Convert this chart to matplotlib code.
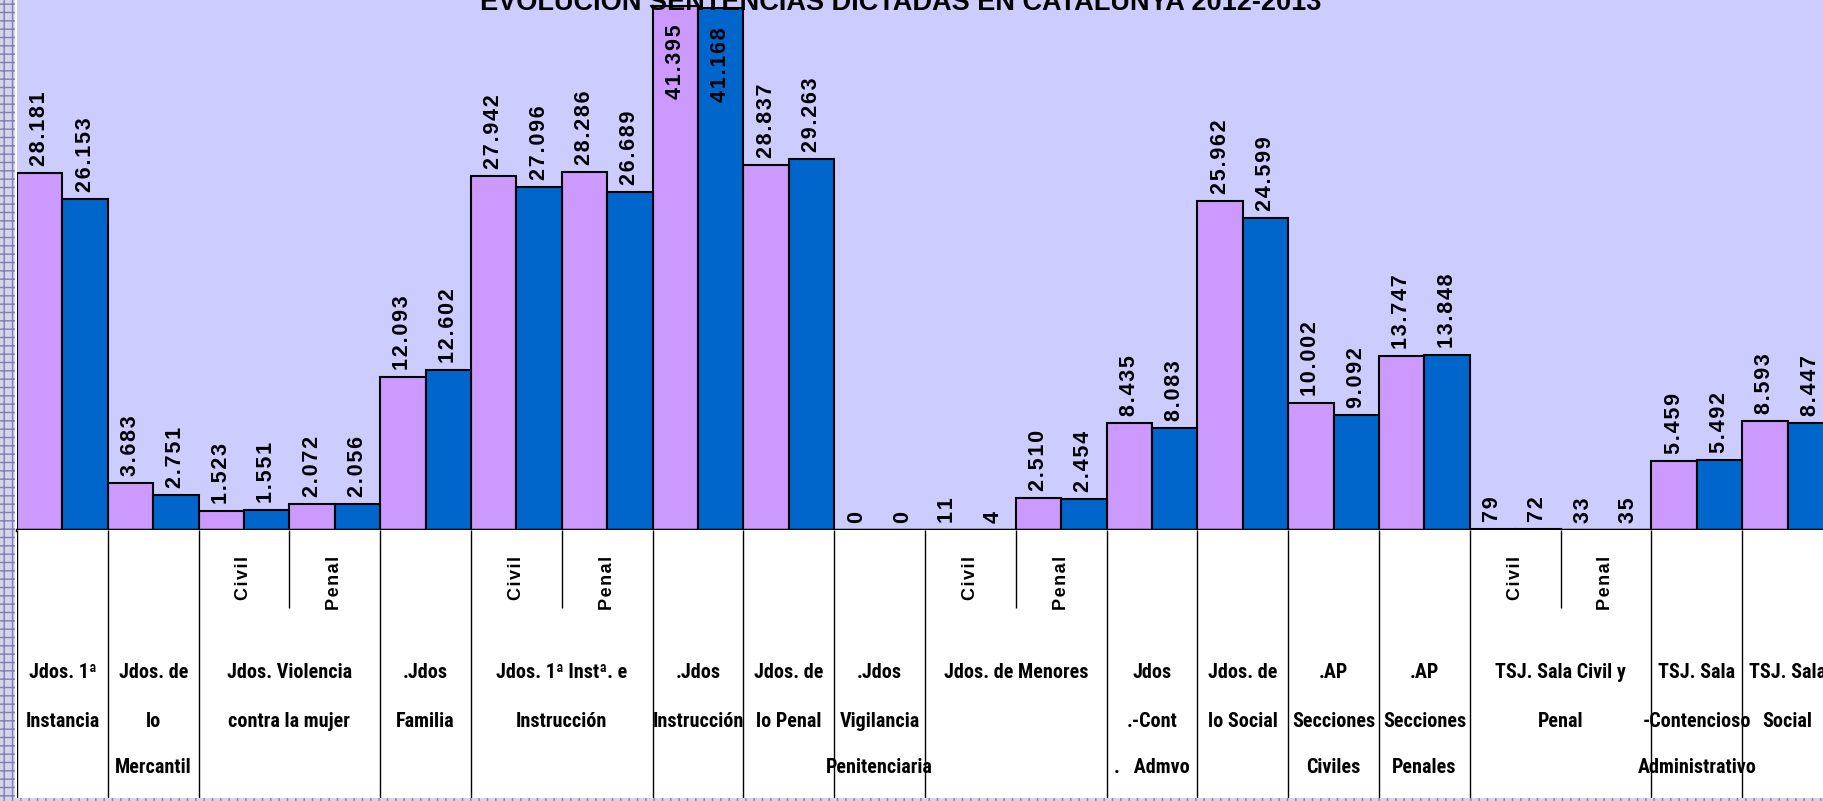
import matplotlib
matplotlib.use("Agg")
import matplotlib.pyplot as plt
from matplotlib import font_manager as fm
from matplotlib.patches import Rectangle
import numpy as np

# --- data ---
title = "EVOLUCIÓN SENTENCIAS DICTADAS EN CATALUNYA 2012-2013"
values_2012 = [28181, 3683, 1523, 2072, 12093, 27942, 28286, 41395, 28837, 0,
               11, 2510, 8435, 25962, 10002, 13747, 79, 33, 5459, 8593]
values_2013 = [26153, 2751, 1551, 2056, 12602, 27096, 26689, 41168, 29263, 0,
               4, 2454, 8083, 24599, 9092, 13848, 72, 35, 5492, 8447]
sub_labels = ["", "", "Civil", "Penal", "", "Civil", "Penal", "", "", "",
              "Civil", "Penal", "", "", "", "", "Civil", "Penal", "", ""]
group_labels = ["Jdos. 1ª\nInstancia", "Jdos. de\nlo\nMercantil",
                "Jdos. Violencia\ncontra la mujer", ".Jdos\nFamilia",
                "Jdos. 1ª Instª. e\nInstrucción", ".Jdos\nInstrucción",
                "Jdos. de\nlo Penal", ".Jdos\nVigilancia\nPenitenciaria",
                "Jdos. de Menores", "Jdos\n.-Cont\n.   Admvo", "Jdos. de\nlo Social",
                ".AP\nSecciones\nCiviles", ".AP\nSecciones\nPenales",
                "TSJ. Sala Civil y\nPenal", "TSJ. Sala\n-Contencioso\nAdministrativo",
                "TSJ. Sala\nSocial"]
group_spans = [1, 1, 2, 1, 2, 1, 1, 1, 2, 1, 1, 1, 1, 2, 1, 1]

PURPLE = "#CC99FF"
BLUE = "#0066CC"
BG = "#CCCCFF"

names = {f.name for f in fm.fontManager.ttflist}
if "Liberation Sans Narrow" in names:
    cat_font, cat_size = "Liberation Sans Narrow", 14.5
elif "Roboto Condensed" in names:
    cat_font, cat_size = "Roboto Condensed", 14.5
else:
    cat_font, cat_size = "Liberation Sans", 12.5
LAB = ["Liberation Sans", "DejaVu Sans"]


def spaced(s, sep="\u200a"):
    return sep.join(s)


def main():
    W, H = 1823, 801
    left, base, bottom = 17, 530, 798
    slot_w = 90.8

    fig = plt.figure(figsize=(W / 100, H / 100), dpi=100)
    fig.patch.set_facecolor("white")
    ax = fig.add_axes([left / W, 1 - base / H, 1 - left / W, base / H])
    ax2 = fig.add_axes([left / W, 1 - bottom / H, 1 - left / W, (bottom - base) / H], sharex=ax)

    n = len(values_2012)
    x = np.arange(n)
    ymax = 41838
    ax.set_xlim(0, (W - left) / slot_w)
    ax.set_ylim(0, ymax)
    ax.set_facecolor(BG)
    ax.bar(x + 0.25, values_2012, width=0.5, color=PURPLE, edgecolor="black", linewidth=1.5)
    ax.bar(x + 0.75, values_2013, width=0.5, color=BLUE, edgecolor="black", linewidth=1.5)
    ax.axhline(0, color="black", lw=2.5, clip_on=False, zorder=5)

    for xs, vals in ((x + 0.25, values_2012), (x + 0.75, values_2013)):
        for xi, v in zip(xs, vals):
            txt = spaced(f"{v:,}".replace(",", "."))
            if v > ymax * 0.9:
                ax.annotate(txt, (xi, v), xytext=(0, -19), textcoords="offset pixels",
                            rotation=90, ha="center", va="top", fontsize=15.5,
                            fontweight="bold", family=LAB)
            else:
                ax.annotate(txt, (xi, v), xytext=(0, 7), textcoords="offset pixels",
                            rotation=90, ha="center", va="bottom", fontsize=15.5,
                            fontweight="bold", family=LAB)

    for a in (ax, ax2):
        a.set_xticks([])
        a.set_yticks([])
        for s in a.spines.values():
            s.set_visible(False)

    # category table below the bars
    ax2.set_ylim(0, 1)
    ax2.set_facecolor("white")
    bounds = np.cumsum([0] + group_spans)
    ax2.vlines(bounds, 0, 1, color="black", lw=1)
    for i, lab in enumerate(sub_labels):
        if lab:
            ax2.text(i + 0.5, 0.903, spaced(lab), rotation=90, ha="center",
                     va="top", fontsize=13, fontweight="bold", family=LAB)
    for b0, span in zip(bounds[:-1], group_spans):
        if span == 2:
            ax2.vlines(b0 + 1, 0.71, 1, color="black", lw=1)
    rows = [0.47, 0.287, 0.112]
    for b0, span, lab in zip(bounds[:-1], group_spans, group_labels):
        for r, line in zip(rows, lab.split("\n")):
            ax2.text(b0 + span / 2, r, line, ha="center", va="center",
                     fontsize=cat_size, fontweight="bold", family=[cat_font, "DejaVu Sans"])

    # decorative borders
    fig.patches.append(Rectangle((0, 0), 15 / W, 1, transform=fig.transFigure,
                                 facecolor="#D4D4EC", edgecolor="#8080B0", hatch="++",
                                 lw=0, zorder=6))
    fig.patches.append(Rectangle((0, 0), 1, 3 / H, transform=fig.transFigure,
                                 facecolor="#D4D4EC", edgecolor="#8080B0", hatch="++",
                                 lw=0, zorder=6))

    fig.text(901 / W, 1 - 10 / H, title, ha="center", va="baseline", fontsize=19.5,
             fontweight="bold", family=LAB, zorder=10)

    fig.savefig("out.png", dpi=100)


if __name__ == "__main__":
    main()
